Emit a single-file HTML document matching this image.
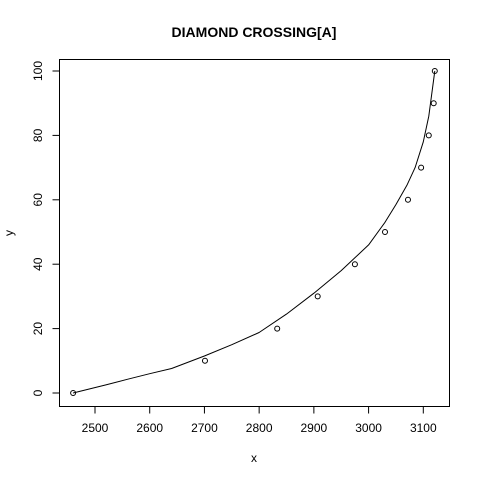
<!DOCTYPE html>
<html><head><meta charset="utf-8"><style>
html,body{margin:0;padding:0;background:#fff;}
svg{display:block;font-family:"Liberation Sans",Arial,sans-serif;}
</style></head><body>
<svg id="chart" width="480" height="480" xmlns="http://www.w3.org/2000/svg">
<rect width="480" height="480" fill="#fff"/>
<text x="254" y="37" text-anchor="middle" font-weight="bold" font-size="14">DIAMOND CROSSING[A]</text>
<rect x="59.5" y="59.5" width="390" height="347" fill="none" stroke="#000"/>
<g id="xaxis"></g>
<g id="yaxis"></g>
<text x="254" y="462" text-anchor="middle" font-size="12">x</text>
<text transform="translate(13,233) rotate(-90)" text-anchor="middle" font-size="12">y</text>
<g id="marks"></g>
</svg>
<script>
const xTicks=[2500,2600,2700,2800,2900,3000,3100];
const yTicks=[0,20,40,60,80,100];
const pointX=[2460,2701,2833,2907,2975,3030,3072,3096,3110,3119,3121];
const pointY=[0,10,20,30,40,50,60,70,80,90,100];
const curveX=[2460,2520,2560,2600,2640,2700,2750,2800,2850,2900,2950,2975,3000,3030,3050,3070,3085,3100,3110,3121];
const curveY=[0,2.5,4.3,6,7.6,11.5,15,18.8,24.5,31,38,42,46,53,58.5,64.5,70,78,86,100];
const NS="http://www.w3.org/2000/svg";
function sx(v){return 95+(v-2500)*(328.3/600);}
function sy(v){return 393-v*3.22;}
function mk(t,a,p){const e=document.createElementNS(NS,t);for(const k in a)e.setAttribute(k,a[k]);p.appendChild(e);return e;}
const xa=document.getElementById('xaxis'),ya=document.getElementById('yaxis'),m=document.getElementById('marks');
mk('line',{x1:sx(2500),x2:sx(3100),y1:406.5,y2:406.5,stroke:'#000'},xa);
xTicks.forEach(v=>{const x=sx(v);
const l=mk('line',{x1:x,x2:x,y1:406.5,y2:413.5,stroke:'#000'},xa);


const t=mk('text',{x:x,y:432,'text-anchor':'middle','font-size':'12'},xa);t.textContent=v;

});
mk('line',{x1:59.5,x2:59.5,y1:sy(0),y2:sy(100),stroke:'#000'},ya);
yTicks.forEach(v=>{const y=sy(v);
const l=mk('line',{x1:52.5,x2:59.5,y1:y,y2:y,stroke:'#000'},ya);


const t=mk('text',{transform:`translate(42,${y}) rotate(-90)`,'text-anchor':'middle','font-size':'12'},ya);t.textContent=v;

});
const d=curveX.map((x,i)=>(i?'L':'M')+sx(x).toFixed(1)+','+sy(curveY[i]).toFixed(1)).join(' ');
const p=mk('path',{d:d,fill:'none',stroke:'#000','stroke-width':1,'stroke-linejoin':'round'},m);


pointX.forEach((x,i)=>{const c=mk('circle',{cx:sx(x),cy:sy(pointY[i]),r:2.5,fill:'none',stroke:'#000'},m);

});
</script>
</body></html>
